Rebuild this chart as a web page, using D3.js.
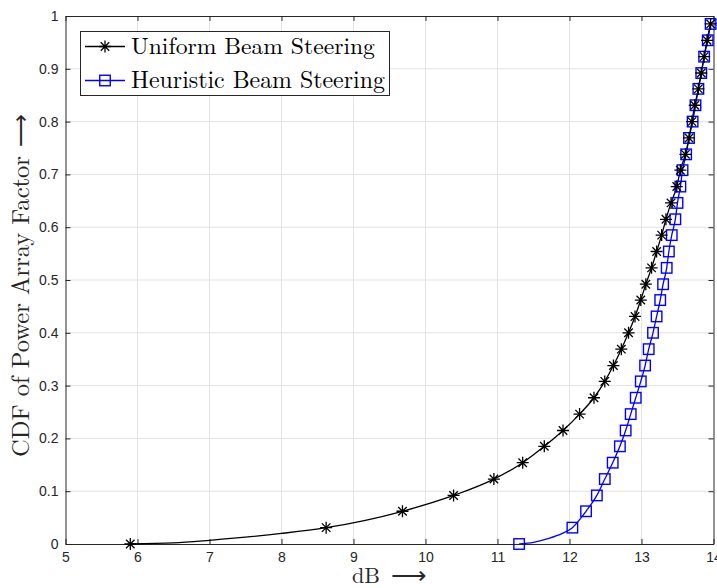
<!DOCTYPE html>
<html>
<head>
<meta charset="utf-8">
<script src="https://cdn.jsdelivr.net/npm/d3@7/dist/d3.min.js"></script>
<style>
  html, body { margin: 0; padding: 0; background: #fff; }
  svg { display: block; }
</style>
</head>
<body>
<svg id="chart" width="717" height="588"></svg>
<script>
// CDF levels shared by both curves (one marker per level)
const cdfLevels = [0, 0.031, 0.062, 0.092, 0.123, 0.154, 0.185, 0.215, 0.246, 0.277,
  0.308, 0.338, 0.369, 0.400, 0.431, 0.462, 0.492, 0.523, 0.554, 0.585,
  0.615, 0.646, 0.677, 0.708, 0.738, 0.769, 0.800, 0.831, 0.862, 0.892,
  0.923, 0.954, 0.985];

// Power array factor (dB) at each CDF level
const uniformDb = [5.90, 8.62, 9.68, 10.39, 10.95, 11.35, 11.65, 11.91, 12.14, 12.34,
  12.49, 12.61, 12.72, 12.82, 12.91, 12.99, 13.06, 13.14, 13.21, 13.28,
  13.34, 13.41, 13.49, 13.54, 13.61, 13.66, 13.70, 13.74, 13.79, 13.83,
  13.87, 13.91, 13.96];
const heuristicDb = [11.30, 12.04, 12.23, 12.38, 12.49, 12.60, 12.70, 12.78, 12.85, 12.92,
  12.99, 13.05, 13.10, 13.16, 13.21, 13.26, 13.30, 13.35, 13.38, 13.42,
  13.47, 13.50, 13.54, 13.57, 13.62, 13.66, 13.71, 13.75, 13.79, 13.83,
  13.87, 13.92, 13.96];

// Extra curve samples between the lowest markers (no marker drawn)
const uniformTailDb = [6.5, 7.0, 8.0];
const uniformTailCdf = [0.002, 0.007, 0.020];
const heuristicTailDb = [11.5, 11.7, 11.9];
const heuristicTailCdf = [0.003, 0.010, 0.020];

const xTicks = [5, 6, 7, 8, 9, 10, 11, 12, 13, 14];
const yTicks = [0, 0.1, 0.2, 0.3, 0.4, 0.5, 0.6, 0.7, 0.8, 0.9, 1];

const seriesNames = ["Uniform Beam Steering", "Heuristic Beam Steering"];
const seriesColors = ["#000000", "#0000ff"];
const xTitle = "dB";
const yTitle = "CDF of Power Array Factor";
const arrowGlyph = "\u27F6";

const margin = { left: 65.5, right: 3.5, top: 16, bottom: 44 };
const W = 717, H = 588;

const svg = d3.select("#chart");
const x = d3.scaleLinear().domain([5, 14]).range([margin.left, W - margin.right]);
const y = d3.scaleLinear().domain([0, 1]).range([H - margin.bottom, margin.top]);

const x0 = x.range()[0], x1 = x.range()[1];
const y0 = y.range()[0], y1 = y.range()[1];

// grid
const grid = svg.append("g").attr("stroke", "#e3e3e3").attr("stroke-width", 1);
grid.selectAll(".gx").data(xTicks.slice(1, -1)).join("line")
  .attr("x1", d => x(d)).attr("x2", d => x(d)).attr("y1", y0).attr("y2", y1);
grid.selectAll(".gy").data(yTicks.slice(1, -1)).join("line")
  .attr("x1", x0).attr("x2", x1).attr("y1", d => y(d)).attr("y2", d => y(d));

// axes
const tickFont = "'Liberation Sans', Arial, Helvetica, sans-serif";
const fmt = d => String(d);

const axB = svg.append("g").attr("transform", `translate(0,${y0})`)
  .call(d3.axisBottom(x).tickValues(xTicks).tickFormat(fmt).tickSizeInner(-5).tickSizeOuter(0).tickPadding(8));
const axT = svg.append("g").attr("transform", `translate(0,${y1})`)
  .call(d3.axisTop(x).tickValues(xTicks).tickFormat("").tickSizeInner(-5).tickSizeOuter(0));
const axL = svg.append("g").attr("transform", `translate(${x0},0)`)
  .call(d3.axisLeft(y).tickValues(yTicks).tickFormat(fmt).tickSizeInner(-5).tickSizeOuter(0).tickPadding(7));
const axR = svg.append("g").attr("transform", `translate(${x1},0)`)
  .call(d3.axisRight(y).tickValues(yTicks).tickFormat("").tickSizeInner(-5).tickSizeOuter(0));

[axB, axT, axL, axR].forEach(a => {
  a.select(".domain").attr("stroke", "#262626").attr("stroke-width", 1);
  a.selectAll(".tick line").attr("stroke", "#262626").attr("stroke-width", 1);
  a.selectAll(".tick text").attr("fill", "#262626")
    .style("font-family", tickFont).style("font-size", "14px");
});

// curves
function curvePoints(db, cdf, tailDb, tailCdf) {
  const pts = db.map((v, i) => [v, cdf[i]]).concat(tailDb.map((v, i) => [v, tailCdf[i]]));
  return pts.sort((a, b) => a[0] - b[0]);
}
const line = d3.line().x(d => x(d[0])).y(d => y(d[1])).curve(d3.curveMonotoneX);

const uniformCurve = curvePoints(uniformDb, cdfLevels, uniformTailDb, uniformTailCdf);
const heuristicCurve = curvePoints(heuristicDb, cdfLevels, heuristicTailDb, heuristicTailCdf);

svg.append("path").datum(heuristicCurve).attr("d", line)
  .attr("fill", "none").attr("stroke", seriesColors[1]).attr("stroke-width", 1.3);
svg.append("path").datum(uniformCurve).attr("d", line)
  .attr("fill", "none").attr("stroke", seriesColors[0]).attr("stroke-width", 1.3);

function asterisk(g, cx, cy, r, color) {
  const d = r * Math.SQRT1_2;
  const p = `M${cx - r},${cy}L${cx + r},${cy}M${cx},${cy - r}L${cx},${cy + r}` +
    `M${cx - d},${cy - d}L${cx + d},${cy + d}M${cx - d},${cy + d}L${cx + d},${cy - d}`;
  g.append("path").attr("d", p).attr("stroke", color).attr("stroke-width", 1.3).attr("fill", "none");
}
function square(g, cx, cy, s, color) {
  g.append("rect").attr("x", cx - s / 2).attr("y", cy - s / 2).attr("width", s).attr("height", s)
    .attr("fill", "none").attr("stroke", color).attr("stroke-width", 1.4);
}

const markers = svg.append("g");
cdfLevels.forEach((c, i) => square(markers, x(heuristicDb[i]), y(c), 10.5, seriesColors[1]));
cdfLevels.forEach((c, i) => asterisk(markers, x(uniformDb[i]), y(c), 6, seriesColors[0]));

// legend
const serif = "'Latin Modern Roman', 'CMU Serif', 'Liberation Serif', 'Times New Roman', serif";
const leg = svg.append("g");
leg.append("rect").attr("x", 80.5).attr("y", 31.5).attr("width", 309).attr("height", 64)
  .attr("fill", "#fff").attr("stroke", "#262626").attr("stroke-width", 1);
const legY = [46.5, 80.5];
seriesNames.forEach((name, i) => {
  leg.append("line").attr("x1", 85).attr("x2", 125).attr("y1", legY[i]).attr("y2", legY[i])
    .attr("stroke", seriesColors[i]).attr("stroke-width", 1.3);
  if (i === 0) asterisk(leg, 105, legY[i], 6, seriesColors[i]);
  else square(leg, 105, legY[i], 10.5, seriesColors[i]);
  leg.append("text").attr("x", 131).attr("y", legY[i] + 7)
    .attr("fill", "#000").style("font-family", serif).style("font-size", "22px").text(name);
});
// size legend labels to the width of the box
leg.selectAll("text").each(function (d, i) {
  const target = i === 0 ? 244 : 254;
  const w = this.getComputedTextLength();
  if (w > 0) d3.select(this).style("font-size", (22 * target / w).toFixed(2) + "px");
});

// axis title: words, then a long arrow stretched to its own length
function axisTitle(g, label, textLen, gap, arrowLen, size) {
  const t = g.append("text").attr("x", 0).attr("y", 0)
    .style("font-family", serif).style("font-size", size + "px").attr("fill", "#262626")
    .text(label);
  const w = t.node().getComputedTextLength();
  const fs = w > 0 ? size * textLen / w : size;
  t.style("font-size", fs.toFixed(2) + "px");
  const a = g.append("text").attr("x", 0).attr("y", 0)
    .style("font-family", serif).style("font-size", fs.toFixed(2) + "px").attr("fill", "#262626")
    .text(arrowGlyph);
  const aw = a.node().getComputedTextLength();
  const sx = aw > 0 ? arrowLen / aw : 1;
  a.attr("transform", `translate(${textLen + gap},0) scale(${sx.toFixed(3)},1)`);
}
axisTitle(svg.append("g").attr("transform", "translate(352,583)"), xTitle, 28, 11, 36, 20);
axisTitle(svg.append("g").attr("transform", "translate(29,457) rotate(-90)"), yTitle, 301, 9, 33, 21);
</script>
</body>
</html>
